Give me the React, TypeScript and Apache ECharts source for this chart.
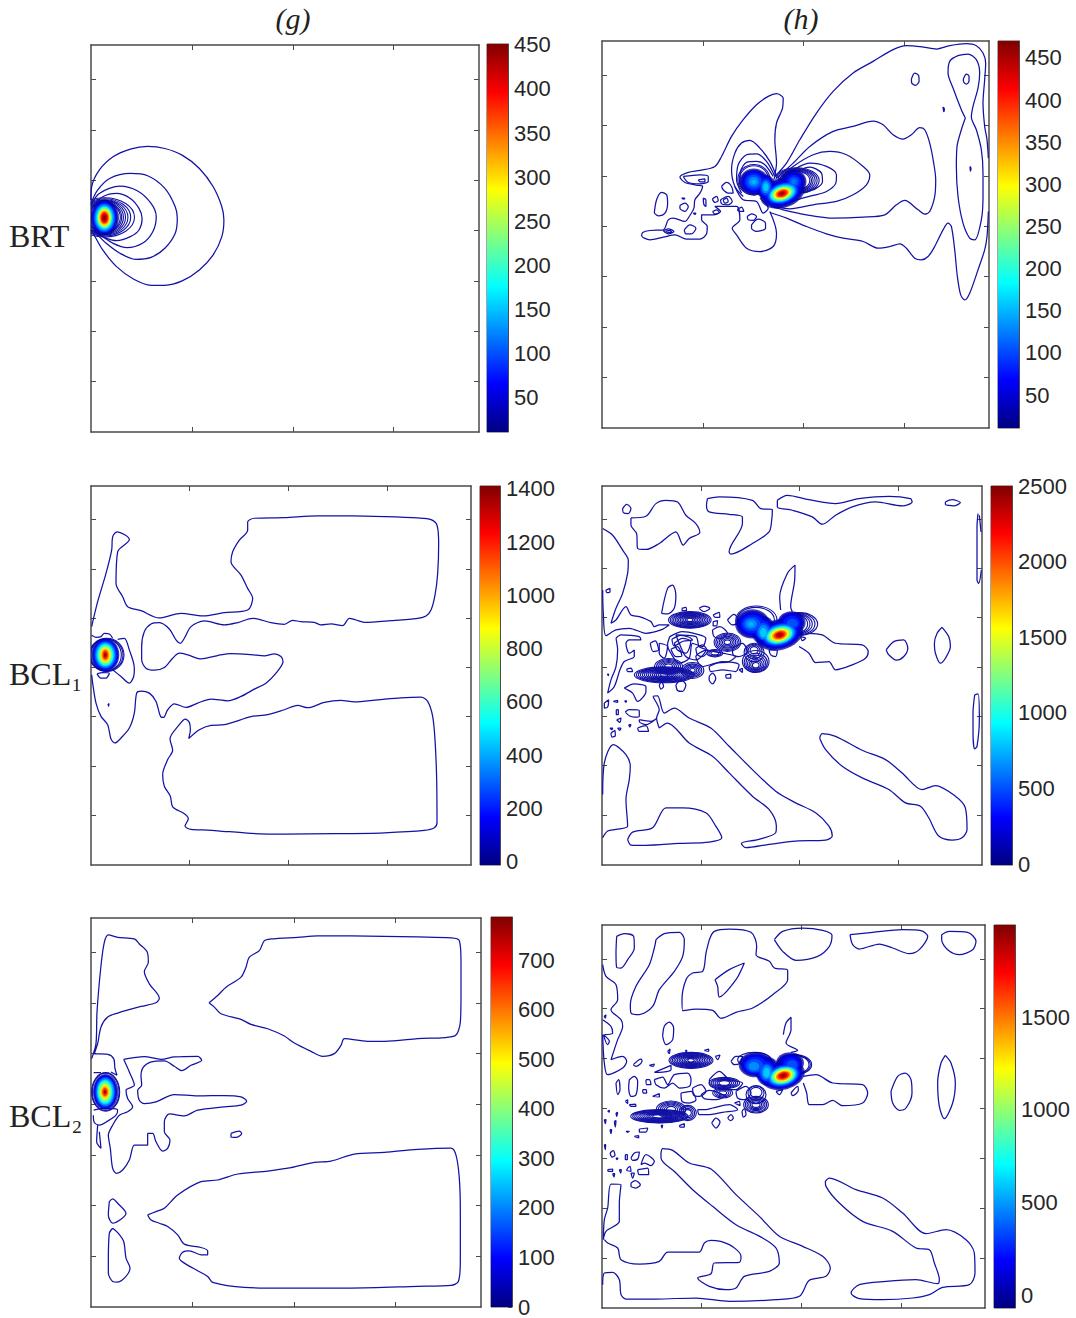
import React, { useEffect, useRef } from "react";
import * as echarts from "echarts";

type Pts = number[][];

// All abscissae and ordinates below are read off the picture in one arbitrary unit per panel
// (the source chart has no numbers on these axes). Rows: [cx, cy, rx, ry, angle, level].

const jetStops = ["#000080", "#0000ff", "#0080ff", "#00ffff", "#80ff80", "#ffff00", "#ff8000", "#ff0000", "#800000"];

// ---------- (g) BRT ----------
const gBrtOpen: Pts[] = [
  [[266,600],[268,560],[290,510],[330,470],[380,447],[430,439],[480,445],[530,465],[580,505],[620,560],[645,620],[651,660],[645,710],[620,765],[580,810],[530,843],[480,856],[440,856],[390,838],[340,800],[300,750],[275,705],[266,690]],
  [[266,610],[285,570],[320,535],[380,520],[430,527],[480,565],[510,620],[516,655],[510,700],[480,745],[440,772],[395,778],[350,760],[310,730],[280,700],[266,690]],
  [[266,615],[290,580],[350,558],[400,572],[440,610],[455,650],[445,695],[415,730],[370,743],[330,730],[295,707],[268,690]],
  [[268,620],[300,590],[340,580],[380,595],[405,625],[414,655],[405,690],[380,710],[340,722],[305,712],[270,690]],
];
const gBrtLoops: Pts[] = [];
const gBrtRings = [[305,652,87,59,0],[305,652,76,56,0],[305,652,68,53,0],[305,652,61,51,0],[305,652,55,49,0],[305,652,50,46,0],[305,652,46,44,0]];
const gBrtBlob = [[305,653,42,54,0,15],[305,653,38,50,0,40],[305,653,34,47,0,70],[305,653,31,43,0,100],[305,653,28,40,0,125],[305,653,25,36,0,150],[305,653,22,33,0,185],[305,653,20,30,0,220],[305,653,18,27,0,260],[305,653,16,24,0,300],[305,653,13,20,0,340],[305,653,11,17,0,380],[305,653,8,12,0,420],[305,653,4,7,0,445]];

// ---------- (h) BRT ----------
const hBrtOpen: Pts[] = [
  [[525,440],[560,400],[600,330],[650,250],[700,185],[760,130],[820,95],[880,60],[920,48],[970,52],[1010,58],[1050,48],[1100,42],[1130,48],[1150,70],[1158,100],[1155,150],[1150,220],[1155,290],[1162,330],[1166,385]],
  [[1166,545],[1162,620],[1155,660],[1135,720],[1110,790],[1095,810],[1083,795],[1073,740],[1065,660],[1055,590],[1045,580],[1030,600],[1005,650],[985,680],[965,690],[945,685],[920,655],[900,642],[870,650],[835,655],[790,635],[730,625],[680,612],[620,590],[560,565],[510,548]],
  [[525,435],[530,400],[525,330],[530,280],[548,235],[550,205],[530,192],[505,200],[470,225],[430,270],[395,320],[365,380],[345,410],[300,422],[265,428],[240,442],[255,458],[290,466],[308,470],[300,490],[285,510],[282,535],[268,560],[255,575],[220,565],[205,570],[190,600],[150,602],[128,608],[125,618],[150,630],[190,622],[225,615],[260,628],[300,628],[320,612],[322,590],[305,570],[305,555],[340,555],[362,545],[345,530],[360,530],[410,530],[420,570],[397,595],[410,615],[440,655],[480,665],[520,650],[530,610],[510,545]],
  [[530,445],[580,400],[630,350],[700,305],[760,290],[820,274],[850,285],[880,315],[910,328],[935,315],[960,294],[975,300],[990,340],[1002,400],[1008,450],[1005,500],[990,545],[975,553],[955,540],[915,512],[890,525],[855,555],[790,562],[700,565],[620,555],[550,540],[515,530]],
  [[535,450],[580,410],[640,375],[690,365],[740,375],[790,410],[810,435],[800,465],[760,495],[710,515],[640,525],[570,537],[520,530]],
  [[540,450],[590,415],[630,400],[680,410],[710,435],[708,460],[680,485],[640,497],[590,510],[560,520]],
  [[590,425],[630,412],[665,430],[668,455],[650,475],[610,490]],
  [[530,440],[510,395],[480,355],[450,332],[425,340],[405,370],[395,420],[405,470],[430,500]],
  [[525,440],[500,395],[470,372],[440,375],[415,405],[410,450],[425,490]],
  [[520,440],[495,405],[470,395],[440,398],[422,425],[420,465]],
  [[405,470],[430,510],[470,515],[490,550],[505,535],[480,505]],
];
const hBrtLoops: Pts[] = [
  [[1097,265],[1085,240],[1060,175],[1045,130],[1050,95],[1075,78],[1105,73],[1130,90],[1140,130],[1135,175],[1120,230],[1115,262],[1130,300],[1145,360],[1150,430],[1150,500],[1145,570],[1125,630],[1110,625],[1090,580],[1075,500],[1070,410],[1072,350],[1085,300]],
  [[935,148],[945,130],[957,138],[958,155],[947,167],[936,160]],
  [[1091,148],[1100,133],[1108,140],[1108,155],[1100,163],[1092,157]],
  [[1030,232],[1034,238],[1032,246]],
  [[1111,410],[1114,417],[1112,424]],
  [[250,440],[300,435],[325,440],[325,455],[300,462],[265,458]],
  [[295,450],[315,447],[315,456],[300,456]],
  [[163,550],[170,510],[185,488],[200,495],[203,520],[195,550],[175,558]],
  [[240,527],[255,520],[265,530],[255,545],[240,535]],
  [[365,470],[380,458],[395,470],[400,490],[385,490],[370,480]],
  [[362,510],[385,500],[397,515],[385,525],[365,522]],
  [[370,510],[380,505],[385,515],[375,520]],
  [[337,508],[350,500],[355,512],[345,518]],
  [[310,505],[318,510],[318,530],[312,525]],
  [[245,505],[255,505],[252,508]],
  [[338,545],[350,540],[358,548],[345,553]],
  [[442,560],[455,552],[470,560],[460,572],[445,570]],
  [[455,585],[475,568],[497,580],[497,595],[470,605],[455,595]],
  [[190,603],[205,597],[222,605],[205,612]],
  [[197,604],[210,602],[215,607],[205,608]],
  [[253,600],[270,585],[288,595],[275,612],[258,612]],
  [[412,540],[425,532],[432,545],[420,545]],
  [[280,550],[288,550],[285,554]],
];
const hBrtRings = [[590,452,68,38,0],[590,452,62,36,0],[590,452,56,34,0],[590,452,50,32,0],[590,452,45,30,0],[590,452,40,28,0],[462,450,48,46,0],[462,450,44,42,0]];
const hBrtBlob = [
  [462,456,44,40,0,25],[498,472,28,38,0,25],[582,456,38,36,0,25],[548,490,68,44,18,25],
  [462,456,40,36,0,38],[498,472,25,35,0,38],[582,456,34,32,0,38],[548,490,62,40,18,38],
  [462,456,35,32,0,57],[498,472,22,31,0,57],[582,456,28,27,0,57],[548,490,56,35,18,57],
  [462,456,29,27,0,80],[498,472,19,27,0,80],[582,456,22,21,0,80],[548,490,50,31,18,80],
  [462,456,23,21,0,103],[498,472,16,23,0,103],[582,456,15,15,0,103],[548,490,46,28,18,103],
  [462,456,15,14,0,130],[498,472,12,18,0,130],[582,456,8,8,0,120],[548,490,42,26,18,130],
  [462,456,8,7,0,148],[498,472,8,12,0,158],[548,491,39,24,18,158],
  [547,491,35,21,18,196],[547,491,30,18,18,250],[547,491,26,15,18,296],[547,491,21,13,18,342],[547,491,17,10,18,388],[547,491,12,7,18,425],[547,491,6,4,18,457],
];

// ---------- (g) BCL1 ----------
const gBcl1Open: Pts[] = [
  [[22,440],[40,365],[65,280],[82,210],[85,170],[98,155],[120,163],[135,178],[100,215],[95,310],[115,350],[130,380],[170,392],[225,414],[290,400],[355,408],[420,398],[490,390],[505,355],[490,325],[470,285],[440,245],[445,215],[465,180],[490,150],[490,125],[510,114],[600,112],[700,107],[800,107],[900,109],[1000,113],[1040,118],[1058,135],[1063,190],[1060,280],[1052,345],[1040,390],[1025,408],[1000,415],[920,422],[840,427],[815,420],[795,415],[775,437],[740,432],[710,435],[690,427],[650,425],[625,421],[600,433],[560,428],[505,415],[460,428],[420,435],[360,423],[320,440],[300,475],[288,490],[275,480],[255,447],[225,428],[200,432],[180,455],[172,500],[172,540],[185,565],[210,571],[240,563],[265,535],[285,520],[310,525],[350,537],[400,527],[440,521],[500,524],[540,528],[570,522],[590,530],[596,545],[575,580],[545,610],[510,628],[470,650],[430,663],[380,658],[340,670],[305,683],[270,672],[250,690],[238,713],[230,712],[215,665],[195,640],[170,634],[157,640],[150,700],[135,745],[110,775],[92,790],[80,778],[70,735],[50,710],[35,670],[25,610],[22,585]],
  [[22,466],[35,472],[50,470],[60,460],[75,462],[85,475]],
  [[100,478],[120,475],[135,510],[150,565],[148,590],[135,610],[110,590],[85,570]],
];
const gBcl1Loops: Pts[] = [
  [[313,777],[345,750],[380,737],[420,735],[500,711],[550,705],[600,690],[640,677],[670,684],[720,668],[770,662],[810,666],[880,660],[950,654],[1010,652],[1030,665],[1045,710],[1052,780],[1057,900],[1058,1030],[1050,1045],[1020,1053],[900,1060],[750,1063],[600,1064],[500,1062],[400,1054],[370,1052],[320,1050],[302,1040],[312,1018],[300,1003],[265,982],[258,950],[240,920],[235,885],[250,840],[265,812],[257,778],[285,735],[303,718],[315,728],[318,750]],
  [[38,582],[50,595],[65,595],[75,580],[55,578]],
  [[71,672],[74,672],[73,680]],
];
const gBcl1Rings = [[67,525,52,50,0],[67,525,49,48,0],[65,525,46,48,0]];
const gBcl1Blob = [[63,525,42,50,0,40],[63,525,39,47,0,100],[63,525,36,44,0,180],[63,525,33,41,0,260],[63,525,30,38,0,340],[63,525,27,35,0,430],[63,525,24,32,0,520],[63,525,21,29,0,620],[63,525,19,26,0,720],[63,525,16,23,0,820],[63,525,14,20,0,920],[63,525,11,17,0,1030],[63,525,8,13,0,1180],[63,525,4,7,0,1350]];

// ---------- (h) BCL1 ----------
const hBcl1Open: Pts[] = [
  [[20,145],[50,165],[80,210],[97,240],[95,280],[80,340],[60,385],[45,430],[60,420],[90,380],[105,405],[130,410],[165,425],[175,440],[190,435],[220,435],[195,450],[150,460],[100,445],[60,450],[30,467],[22,400],[20,330]],
  [[1148,100],[1145,140],[1145,265],[1145,300],[1150,310],[1158,270]],
  [[1152,105],[1157,155]],
  [[635,460],[680,465],[720,490],[800,495],[818,515],[810,535],[770,555],[720,570],[700,545],[660,548],[640,520],[610,500]],
  [[555,390],[552,350],[575,280],[598,255],[597,300],[585,380],[590,395]],
  [[20,945],[25,850],[52,795],[90,825],[103,860],[100,900],[90,960],[95,1040],[60,1050],[35,1055],[20,1075]],
];
const hBcl1Loops: Pts[] = [
  [[80,85],[92,72],[105,85],[97,100],[82,97]],
  [[105,113],[150,108],[180,70],[210,60],[245,65],[270,105],[300,130],[312,157],[280,175],[262,195],[240,155],[190,190],[150,208],[125,205],[122,160],[105,135]],
  [[335,55],[370,50],[470,60],[495,85],[530,88],[528,120],[520,155],[470,190],[405,222],[400,215],[440,130],[440,110],[400,102],[340,95],[332,75]],
  [[545,60],[575,45],[640,58],[720,70],[790,55],[880,48],[945,55],[950,65],[920,77],[840,65],[770,80],[720,105],[680,132],[650,110],[590,90],[545,80]],
  [[1050,65],[1070,58],[1095,67],[1075,77],[1050,72]],
  [[60,475],[75,465],[130,470],[135,480],[100,480],[90,490],[100,520],[115,510],[115,530],[85,545],[72,570],[55,620],[35,640],[45,600],[60,560],[65,510]],
  [[85,625],[115,612],[150,620],[150,635],[125,665],[110,640]],
  [[197,400],[215,325],[230,315],[240,345],[235,385],[215,402]],
  [[872,510],[895,485],[925,480],[937,505],[925,530],[903,541],[880,525]],
  [[1040,442],[1060,470],[1065,500],[1050,535],[1035,550],[1020,520],[1017,490],[1025,460]],
  [[1138,645],[1148,642],[1152,720],[1145,800],[1138,808],[1133,760],[1133,700]],
  [[190,745],[182,715],[190,690],[172,650],[185,648],[205,700],[235,685],[280,715],[345,745],[400,800],[470,870],[540,935],[600,970],[660,1000],[700,1040],[710,1070],[690,1082],[600,1085],[520,1095],[450,1105],[437,1092],[490,1080],[540,1060],[542,1040],[520,990],[470,950],[400,880],[350,830],[280,790],[215,730]],
  [[672,775],[680,762],[720,770],[800,812],[870,840],[920,880],[980,930],[1020,918],[1080,950],[1110,985],[1115,1050],[1100,1075],[1070,1082],[1030,1070],[1000,1015],[975,980],[930,970],[880,930],[800,895],[740,860],[690,810]],
  [[95,1080],[110,1058],[170,1045],[210,985],[260,985],[330,1000],[360,1040],[378,1075],[340,1088],[250,1092],[150,1098],[105,1097]],
  [[222,470],[260,455],[300,462],[330,475],[320,500],[290,490],[280,535],[250,550],[225,520],[215,495]],
  [[235,490],[260,475],[285,485],[270,520],[245,510]],
  [[240,465],[300,470],[310,500],[330,510],[300,540],[270,530],[250,490]],
  [[228,478],[255,466],[280,472],[290,480],[262,484],[235,498]],
  [[225,508],[245,500],[258,528],[240,530]],
  [[330,510],[380,520],[420,530],[400,545],[360,550],[320,560],[300,530]],
  [[340,560],[380,545],[430,555],[420,575],[380,570],[345,575]],
  [[300,505],[320,495],[335,515],[320,530],[305,525]],
  [[350,450],[372,440],[395,460],[375,475],[355,470]],
  [[410,505],[440,490],[455,515],[430,530],[412,525]],
  [[163,490],[178,483],[188,510],[172,515]],
  [[190,490],[215,500],[205,535],[190,520]],
  [[92,568],[105,565],[110,575],[95,575]],
  [[340,590],[350,580],[360,595],[350,612],[340,600]],
  [[390,585],[405,583],[405,595],[392,595]],
  [[190,615],[197,607],[203,620],[195,628]],
  [[240,615],[255,600],[270,615],[260,635],[245,632]],
  [[430,570],[440,565],[440,578]],
  [[395,420],[415,403],[430,425],[410,435]],
  [[352,405],[370,397],[372,412],[358,412]],
  [[352,425],[365,422],[362,438],[352,437]],
  [[310,385],[325,378],[342,385],[325,395]],
  [[258,385],[270,382],[272,392],[260,392]],
  [[615,470],[630,475],[620,482]],
  [[520,510],[545,512],[540,530],[525,525]],
  [[25,670],[38,660],[35,682],[25,685]],
  [[52,665],[65,662],[65,668]],
  [[86,663],[92,663],[90,668]],
  [[61,690],[67,690],[67,705],[61,705]],
  [[88,697],[100,690],[130,692],[130,710],[115,712],[100,708]],
  [[62,720],[75,715],[72,728]],
  [[130,720],[165,725],[180,718],[150,735],[130,725]],
  [[125,745],[150,738],[158,755],[130,755]],
  [[45,760],[57,752],[58,768],[48,772]],
  [[65,745],[75,745],[72,752]],
  [[42,745],[50,745],[48,750]],
  [[98,735],[105,735],[102,742]],
  [[34,583],[38,583],[37,587]],
  [[30,330],[42,325],[42,335],[32,338]],
];
const hBcl1Rings = [
  [282,420,64,25,0],[282,420,59,23,0],[282,420,54,21,0],[282,420,49,20,0],[282,420,44,18,0],[282,420,39,16,0],[282,420,34,14,0],[282,420,29,13,0],[282,420,24,11,0],[282,420,19,9,0],[282,420,14,7,0],[282,420,9,5,0],
  [205,585,90,24,0],[205,585,84,22,0],[205,585,78,21,0],[205,585,72,20,0],[205,585,66,18,0],[205,585,60,17,0],[205,585,54,15,0],[205,585,48,14,0],[205,585,42,12,0],[205,585,36,11,0],[205,585,30,9,0],[205,585,24,8,0],[205,585,18,6,0],[205,585,12,4,0],
  [218,560,42,24,0],[218,560,36,21,0],[218,560,30,18,0],[218,560,24,15,0],[218,560,18,12,0],[218,560,12,8,0],
  [290,572,34,24,0],[290,572,28,20,0],[290,572,23,17,0],[290,572,18,13,0],[290,572,13,10,0],[290,572,8,6,0],
  [395,487,40,28,0],[395,487,35,25,0],[395,487,30,22,0],[395,487,25,18,0],[395,487,20,15,0],[395,487,15,11,0],[395,487,10,7,0],
  [357,520,24,11,0],[357,520,18,8,0],[357,520,12,5,0],
  [480,545,40,33,0],[480,548,35,28,0],[480,550,30,24,0],[480,552,25,20,0],[480,554,20,16,0],[480,555,15,12,0],[480,556,10,8,0],[475,518,30,28,0],[475,515,24,22,0],[475,513,18,17,0],[475,511,12,11,0],
  [612,432,54,34,0],[608,432,50,33,0],[604,432,46,31,0],[600,432,43,30,0],[596,432,40,29,0],[482,420,62,42,0],[480,420,56,38,0],
];
const hBcl1Blob = [
  [470,432,52,44,0,70],[503,452,36,44,0,70],[588,428,42,34,0,70],[552,464,72,46,15,70],
  [470,432,47,40,0,145],[503,452,32,40,0,145],[588,428,37,31,0,145],[552,464,66,42,15,145],
  [470,432,41,34,0,245],[503,452,28,35,0,245],[588,428,32,27,0,245],[552,464,60,38,15,245],
  [470,432,34,28,0,370],[503,452,24,30,0,370],[588,428,25,21,0,370],[552,464,54,34,15,370],
  [468,432,26,21,0,495],[503,454,20,26,0,495],[590,430,17,14,0,495],[552,464,50,31,15,495],
  [466,432,17,14,0,646],[503,456,15,21,0,646],[552,464,46,28,15,646],
  [466,432,8,7,0,747],[503,458,10,15,0,797],[552,465,42,26,15,797],
  [552,465,38,23,15,1047],[552,465,33,20,15,1298],[552,465,28,17,15,1548],[552,465,23,14,15,1799],[552,465,18,11,15,2050],[552,465,13,8,15,2250],[552,465,7,5,15,2425],
];

// ---------- (g) BCL2 ----------
const gBcl2Open: Pts[] = [
  [[22,440],[35,395],[38,300],[50,160],[60,90],[72,68],[100,75],[150,80],[165,95],[188,118],[192,150],[180,178],[195,215],[225,258],[215,272],[170,283],[100,303],[70,315],[50,345],[40,395],[30,425],[70,427],[88,440],[92,470],[98,490],[80,480]],
  [[28,482],[50,482]],
  [[28,595],[50,590],[85,590],[100,595],[95,610],[70,628],[45,640],[30,632],[27,610]],
  [[40,640],[37,690],[50,710],[45,660]],
];
const gBcl2Loops: Pts[] = [
  [[374,272],[400,250],[425,225],[470,195],[485,165],[495,135],[525,115],[540,85],[560,80],[640,75],[700,71],[800,71],[900,72],[1000,74],[1100,77],[1125,85],[1130,150],[1130,250],[1128,330],[1110,372],[1000,380],[900,388],[850,388],[780,380],[770,400],[750,425],[715,433],[680,418],[630,393],[600,372],[550,350],[500,337],[470,322],[410,305],[390,285]],
  [[118,442],[180,434],[230,442],[270,435],[340,433],[352,445],[320,460],[292,476],[270,463],[240,447],[210,448],[180,462],[170,490],[172,520],[160,535],[165,565],[180,575],[215,570],[270,548],[340,552],[420,551],[470,555],[487,568],[470,580],[420,585],[340,595],[300,612],[255,606],[240,630],[240,660],[257,685],[250,710],[235,718],[215,690],[205,665],[190,665],[190,700],[170,700],[150,700],[135,745],[115,775],[97,785],[85,770],[78,710],[72,670],[85,640],[105,610],[130,600],[145,585],[130,560],[125,535],[150,520],[135,480]],
  [[440,665],[465,658],[472,665],[455,677],[440,676]],
  [[75,870],[85,862],[100,875],[125,905],[85,935],[72,910]],
  [[85,950],[75,965],[72,1050],[72,1085],[85,1110],[100,1112],[125,1095],[137,1070],[125,1040],[118,990],[100,963]],
  [[190,910],[215,900],[240,890],[280,850],[350,810],[400,805],[460,787],[550,778],[620,768],[690,752],[740,748],[810,727],[900,722],[1000,713],[1100,709],[1115,730],[1125,800],[1128,900],[1128,1050],[1122,1110],[1100,1122],[1000,1125],[800,1130],[600,1130],[480,1128],[385,1113],[370,1095],[340,1078],[300,1055],[285,1040],[295,1022],[315,1018],[350,1030],[370,1030],[370,1018],[350,1008],[300,998],[280,970],[250,945],[225,935],[200,925]],
];
const gBcl2Rings = [[64,540,42,58,0],[64,540,40,56,0]];
const gBcl2Blob = [[64,540,38,54,0,20],[63,540,35,51,0,60],[63,540,32,48,0,100],[63,540,30,45,0,150],[63,540,27,42,0,195],[63,540,25,38,0,240],[62,540,22,35,0,290],[62,540,20,31,0,340],[62,540,18,28,0,390],[62,540,15,24,0,440],[62,540,13,21,0,500],[62,540,11,17,0,560],[62,540,8,12,0,650],[62,540,4,6,0,750]];

// ---------- (h) BCL2 ----------
const hBcl2Open: Pts[] = [
  [[20,135],[30,170],[60,195],[65,240],[45,270],[75,300],[80,320],[65,360],[45,420],[80,410],[92,425],[80,445],[35,465],[25,430],[20,345]],
  [[20,300],[45,320],[50,340],[25,345]],
  [[562,345],[570,310],[585,293],[585,330],[570,370],[605,392],[585,398]],
  [[622,470],[660,465],[710,490],[800,495],[815,520],[800,550],[740,558],[710,542],[680,555],[640,555],[632,520],[622,490]],
  [[195,700],[200,687],[230,692],[280,730],[345,748],[420,825],[490,890],[550,950],[620,980],[680,1010],[703,1045],[690,1070],[640,1082],[610,1130],[540,1140],[400,1145],[300,1135],[180,1138],[90,1138],[75,1125],[70,1080],[50,1058],[25,1060],[20,1095]],
  [[25,960],[35,970],[65,985],[75,1020],[130,1033],[190,1025],[215,997],[310,997],[325,970],[345,962],[400,975],[435,1010],[430,1028],[355,1030],[345,1062],[305,1075],[340,1100],[390,1110],[420,1105],[445,1070],[520,1055],[550,1030],[540,985],[500,955],[420,915],[350,860],[290,810],[240,760],[195,715],[195,700]],
  [[22,960],[30,935],[70,905],[70,850],[75,795],[45,793],[35,865],[25,900],[22,960]],
];
const hBcl2Loops: Pts[] = [
  [[62,50],[85,42],[113,50],[115,85],[95,120],[75,145],[62,143],[60,100]],
  [[180,60],[205,42],[250,38],[265,60],[260,110],[235,155],[190,210],[170,260],[130,285],[105,280],[103,255],[120,200],[160,135],[175,85]],
  [[340,60],[355,35],[400,28],[465,38],[482,80],[480,105],[520,125],[535,145],[575,152],[575,180],[530,225],[470,265],[420,278],[375,296],[350,272],[300,268],[260,273],[258,240],[270,180],[290,160],[320,155],[330,100]],
  [[357,180],[400,150],[445,130],[420,180],[370,232],[365,200]],
  [[535,60],[560,35],[620,25],[680,32],[708,47],[700,80],[665,110],[600,122],[560,95]],
  [[762,45],[830,38],[920,30],[975,33],[995,50],[970,90],[940,102],[890,85],[850,73],[790,88],[770,75]],
  [[1037,45],[1060,35],[1115,38],[1140,65],[1130,90],[1090,105],[1055,90],[1037,60]],
  [[200,350],[205,320],[220,307],[233,325],[230,360],[210,375]],
  [[1048,407],[1065,430],[1078,490],[1070,550],[1045,597],[1030,560],[1025,490],[1035,430]],
  [[885,515],[905,470],[928,460],[945,480],[948,520],[930,565],[910,572],[890,550]],
  [[688,785],[700,775],[780,810],[860,835],[920,880],[990,942],[1050,930],[1110,960],[1135,1000],[1137,1060],[1120,1095],[1040,1103],[1000,1125],[950,1135],[860,1140],[790,1137],[765,1120],[790,1095],[870,1085],[960,1080],[1025,1092],[1030,1080],[1015,1030],[1000,990],[960,985],[890,935],[800,905],[730,850],[690,800]],
  [[175,480],[200,472],[215,495],[235,465],[275,460],[285,480],[280,500],[250,505],[230,490],[205,505],[180,495]],
  [[100,480],[115,470],[125,485],[120,525],[105,530],[98,505]],
  [[60,490],[68,480],[72,510],[65,525]],
  [[150,480],[160,480],[165,495],[152,495]],
  [[112,435],[135,418],[138,425],[120,440]],
  [[175,458],[225,437],[225,450],[190,458]],
  [[160,437],[175,433],[172,440]],
  [[140,510],[150,510],[152,520],[142,520]],
  [[170,530],[190,522],[190,532]],
  [[215,395],[222,388],[220,402]],
  [[268,392],[272,392],[272,398]],
  [[325,392],[338,388],[338,395]],
  [[358,410],[372,406],[365,420]],
  [[405,425],[420,410],[440,410],[430,432],[415,435]],
  [[340,480],[370,455],[400,480],[440,490],[420,510],[380,510],[345,500]],
  [[315,525],[340,512],[385,530],[360,540],[325,537]],
  [[305,570],[330,570],[350,565],[400,555],[425,570],[380,578],[335,585],[310,585]],
  [[290,505],[315,495],[330,515],[310,530],[292,525]],
  [[255,520],[285,515],[300,540],[280,550],[258,545]],
  [[420,515],[450,500],[465,520],[445,540],[425,535]],
  [[438,575],[445,567],[450,585],[442,592]],
  [[415,550],[430,545],[432,558]],
  [[585,520],[605,500],[607,512],[590,528]],
  [[540,515],[560,510],[550,525]],
  [[347,610],[360,595],[372,607],[360,625]],
  [[395,595],[405,585],[412,595],[403,603]],
  [[250,618],[265,612],[265,622],[252,622]],
  [[195,618],[200,616],[198,625]],
  [[130,628],[155,625],[150,637],[130,637]],
  [[115,650],[128,648],[128,655]],
  [[100,555],[118,553],[120,560],[105,560]],
  [[88,545],[95,540],[95,552]],
  [[35,575],[40,572],[40,578]],
  [[60,580],[65,578],[62,590]],
  [[55,605],[60,603],[58,622]],
  [[42,630],[47,630],[45,642]],
  [[25,600],[30,600],[28,612]],
  [[90,635],[100,635],[95,638]],
  [[42,700],[52,693],[57,707],[48,712]],
  [[105,715],[115,700],[130,697],[125,718],[110,722]],
  [[135,735],[150,705],[175,725],[165,738],[145,730]],
  [[125,750],[155,745],[158,765],[130,765]],
  [[105,790],[118,783],[133,795],[120,805],[105,800]],
  [[88,705],[94,705],[94,720],[88,720]],
  [[25,675],[29,675],[28,690]],
  [[60,715],[66,715],[63,720]],
  [[95,745],[102,740],[105,755],[92,752]],
  [[35,750],[50,748],[50,755],[37,755]],
  [[105,760],[115,760],[110,775]],
  [[50,762],[56,762],[54,772]],
  [[70,750],[76,750],[74,760]],
  [[22,345],[40,365],[35,375]],
  [[30,285],[25,290],[28,295]],
];
const hBcl2Rings = [
  [285,422,66,24,0],[285,422,61,22,0],[285,422,56,21,0],[285,422,51,19,0],[285,422,46,17,0],[285,422,41,16,0],[285,422,36,14,0],[285,422,31,12,0],[285,422,26,11,0],[285,422,21,9,0],[285,422,16,7,0],[285,422,10,5,0],
  [190,590,86,20,0],[190,590,80,19,0],[190,590,74,18,0],[190,590,68,16,0],[190,590,62,15,0],[190,590,56,14,0],[190,590,50,12,0],[190,590,44,11,0],[190,590,38,9,0],[190,590,32,8,0],[190,590,26,6,0],[190,590,20,5,0],
  [225,570,44,26,0],[225,570,38,23,0],[225,570,32,20,0],[225,570,26,17,0],[225,570,20,14,0],[225,570,14,10,0],
  [275,580,26,23,0],[275,580,21,19,0],[275,580,16,14,0],[275,580,11,10,0],
  [385,490,46,17,0],[385,490,40,15,0],[385,490,34,13,0],[385,490,28,11,0],[385,490,22,9,0],[385,490,16,7,0],[380,520,30,15,0],[380,520,24,12,0],[380,520,18,9,0],[380,520,12,6,0],
  [480,555,37,25,0],[480,555,32,22,0],[480,555,27,18,0],[480,555,22,15,0],[480,555,17,12,0],[480,555,12,8,0],[480,525,30,27,0],[480,520,24,21,0],[480,518,18,15,0],
  [595,435,52,30,0],[595,435,48,29,0],[595,435,44,28,0],[475,420,50,22,0],
];
const hBcl2Blob = [
  [480,435,52,38,0,-3],[515,455,36,44,0,-3],[582,430,42,32,0,-3],[562,468,66,42,15,-3],
  [480,435,47,34,0,59],[515,455,32,40,0,59],[582,431,37,29,0,59],[562,468,60,38,15,59],
  [480,435,41,29,0,141],[512,456,28,35,0,141],[584,432,31,25,0,141],[562,468,55,35,15,141],
  [478,436,34,25,0,244],[512,456,24,30,0,244],[586,434,24,20,0,244],[562,468,51,32,15,244],
  [476,438,26,20,0,347],[512,458,20,26,0,347],[588,436,16,14,0,347],[562,468,47,30,15,347],
  [474,440,16,13,0,471],[512,458,15,21,0,471],[562,468,43,27,15,471],
  [512,459,10,15,0,594],[562,468,40,25,15,594],
  [562,468,36,23,15,800],[562,468,31,20,15,1006],[562,468,27,17,15,1212],[562,468,23,14,15,1418],[562,468,18,11,15,1624],[562,468,13,8,15,1789],[562,468,7,5,15,1933],
];

// ---------- colour bars and ticks ----------
const barTicks = [
  [50, 100, 150, 200, 250, 300, 350, 400, 450],
  [50, 100, 150, 200, 250, 300, 350, 400, 450],
  [0, 200, 400, 600, 800, 1000, 1200, 1400],
  [0, 500, 1000, 1500, 2000, 2500],
  [0, 100, 200, 300, 400, 500, 600, 700],
  [0, 500, 1000, 1500],
];
const barRanges = [[11, 451], [11, 470], [-13, 1411], [-5, 2500], [0, 787], [-65, 1995]];
const rowLabels = ["BRT", "BCL₁", "BCL₂"];
const columnTitles = ["(g)", "(h)"];

const panels = [
  { grid: { left: 91, top: 45, width: 388, height: 387 }, bar: { left: 487, top: 44, width: 21, height: 388 }, xd: [266, 1390], yd: [134, 1297], xt: [558, 851, 1143], yt: [238, 389, 540, 691, 843, 994, 1145], open: gBrtOpen, loops: gBrtLoops, rings: gBrtRings, blob: gBrtBlob },
  { grid: { left: 602, top: 41, width: 387, height: 387 }, bar: { left: 998, top: 41, width: 21, height: 387 }, xd: [6, 1168], yd: [34, 1194], xt: [309, 611, 913], yt: [136, 287, 438, 589, 740, 891, 1043], open: hBrtOpen, loops: hBrtLoops, rings: hBrtRings, blob: hBrtBlob },
  { grid: { left: 91, top: 486, width: 380, height: 379 }, bar: { left: 480, top: 486, width: 20, height: 379 }, xd: [20, 1160], yd: [17, 1157], xt: [316, 613, 909], yt: [118, 266, 414, 563, 711, 859, 1008], open: gBcl1Open, loops: gBcl1Loops, rings: gBcl1Rings, blob: gBcl1Blob },
  { grid: { left: 602, top: 486, width: 380, height: 379 }, bar: { left: 991, top: 486, width: 21, height: 379 }, xd: [18, 1160], yd: [17, 1157], xt: [315, 612, 908], yt: [117, 265, 413, 562, 710, 858, 1006], open: hBcl1Open, loops: hBcl1Loops, rings: hBcl1Rings, blob: hBcl1Blob },
  { grid: { left: 91, top: 918, width: 390, height: 389 }, bar: { left: 491, top: 917, width: 21, height: 390 }, xd: [20, 1190], yd: [17, 1187], xt: [325, 629, 934], yt: [120, 272, 425, 577, 730, 882, 1034], open: gBcl2Open, loops: gBcl2Loops, rings: gBcl2Rings, blob: gBcl2Blob },
  { grid: { left: 602, top: 925, width: 383, height: 383 }, bar: { left: 994, top: 925, width: 21, height: 383 }, xd: [18, 1167], yd: [16, 1165], xt: [317, 617, 917], yt: [118, 267, 417, 566, 716, 865, 1015], open: hBcl2Open, loops: hBcl2Loops, rings: hBcl2Rings, blob: hBcl2Blob },
];

const CONTOUR = "#1212a6";
const AXIS = "#4a4a4a";

function buildOption() {
  const grid: any[] = [];
  const xAxis: any[] = [];
  const yAxis: any[] = [];
  const series: any[] = [];
  const gradient = new echarts.graphic.LinearGradient(
    0, 1, 0, 0,
    jetStops.map((color, i) => ({ offset: i / (jetStops.length - 1), color }))
  );

  const frame = (gi: number, pos: string, p: any) => ({
    type: "value", gridIndex: gi, position: pos, min: p.xd[0], max: p.xd[1],
    axisLine: { onZero: false, lineStyle: { color: AXIS, width: 1.5 } },
    axisTick: { show: true, inside: true, length: 5, customValues: p.xt, lineStyle: { color: AXIS } },
    axisLabel: { show: false }, splitLine: { show: false },
  });
  const vframe = (gi: number, pos: string, p: any) => ({
    type: "value", gridIndex: gi, position: pos, min: p.yd[0], max: p.yd[1], inverse: true,
    axisLine: { show: true, onZero: false, lineStyle: { color: AXIS, width: 1.5 } },
    axisTick: { show: true, inside: true, length: 5, customValues: p.yt, lineStyle: { color: AXIS } },
    axisLabel: { show: false }, splitLine: { show: false },
  });

  panels.forEach((p, idx) => {
    const gi = grid.length;
    grid.push({ ...p.grid, containLabel: false });
    const xi = xAxis.length;
    xAxis.push(frame(gi, "bottom", p), frame(gi, "top", p));
    const yi = yAxis.length;
    yAxis.push(vframe(gi, "left", p), vframe(gi, "right", p));
    const [lo, hi] = barRanges[idx];

    const addLine = (pts: Pts) =>
      series.push({
        type: "line", xAxisIndex: xi, yAxisIndex: yi, data: pts, showSymbol: false, symbol: "none",
        smooth: 0.3, clip: true, silent: true, z: 2,
        lineStyle: { color: CONTOUR, width: 1.25 },
      });
    p.open.forEach(addLine);
    p.loops.forEach((l) => addLine([...l, l[0]]));

    if (p.rings.length)
      series.push({
        type: "custom", xAxisIndex: xi, yAxisIndex: yi, data: p.rings, clip: true, silent: true, z: 3,
        encode: { x: 0, y: 1 },
        renderItem: (_: any, api: any) => {
          const c = api.coord([api.value(0), api.value(1)]);
          const s = api.size([api.value(2) * 2, api.value(3) * 2], [api.value(0), api.value(1)]);
          return {
            type: "ellipse", x: c[0], y: c[1], rotation: (api.value(4) * Math.PI) / 180,
            shape: { cx: 0, cy: 0, rx: s[0] / 2, ry: s[1] / 2 },
            style: { fill: "none", stroke: CONTOUR, lineWidth: 1.1 },
          };
        },
      });

    series.push({
      type: "custom", xAxisIndex: xi, yAxisIndex: yi, data: p.blob, clip: true, silent: true, z: 4,
      encode: { x: 0, y: 1 },
      renderItem: (_: any, api: any) => {
        const c = api.coord([api.value(0), api.value(1)]);
        const s = api.size([api.value(2) * 2, api.value(3) * 2], [api.value(0), api.value(1)]);
        const t = Math.max(0, Math.min(1, (api.value(5) - lo) / (hi - lo)));
        return {
          type: "ellipse", x: c[0], y: c[1], rotation: (api.value(4) * Math.PI) / 180,
          shape: { cx: 0, cy: 0, rx: s[0] / 2, ry: s[1] / 2 },
          style: { fill: echarts.color.lerp(t, jetStops), opacity: t < 0.09 ? 0.75 : 1 },
        };
      },
    });

    // colour bar
    const bi = grid.length;
    grid.push({ ...p.bar, containLabel: false, show: true, borderColor: AXIS, borderWidth: 1 });
    const bx = xAxis.length;
    xAxis.push({ type: "value", gridIndex: bi, min: 0, max: 1, show: false });
    const by = yAxis.length;
    yAxis.push({
      type: "value", gridIndex: bi, position: "right", min: lo, max: hi,
      axisLine: { show: true, onZero: false, lineStyle: { color: AXIS } },
      axisTick: { show: true, inside: true, length: 4, customValues: barTicks[idx], lineStyle: { color: AXIS } },
      axisLabel: {
        show: true, customValues: barTicks[idx], margin: 6, fontSize: 22, color: "#262626",
        fontFamily: "Liberation Sans", padding: [2, 0, 0, 0], formatter: (v: number) => String(v),
      },
      splitLine: { show: false },
    });
    series.push({
      type: "custom", xAxisIndex: bx, yAxisIndex: by, data: [[0, 1, lo, hi]], silent: true, z: 1,
      encode: { x: [0, 1], y: [2, 3] },
      renderItem: (_: any, api: any) => {
        const a = api.coord([api.value(0), api.value(3)]);
        const b = api.coord([api.value(1), api.value(2)]);
        return { type: "rect", shape: { x: a[0], y: a[1], width: b[0] - a[0], height: b[1] - a[1] }, style: { fill: gradient } };
      },
    });
  });

  const label = (text: string, x: number, y: number, font: string, align: string) => ({
    type: "text", x, y, style: { text, x: 0, y: 0, align, verticalAlign: "middle", font, fill: "#222" },
  });
  const graphic = [
    label(columnTitles[0], 293, 18, "italic 30px 'Liberation Serif'", "center"),
    label(columnTitles[1], 801, 18, "italic 30px 'Liberation Serif'", "center"),
    label(rowLabels[0], 9, 236, "32px 'Liberation Serif'", "left"),
    label(rowLabels[1], 9, 674, "32px 'Liberation Serif'", "left"),
    label(rowLabels[2], 9, 1116, "32px 'Liberation Serif'", "left"),
  ];

  return { animation: false, backgroundColor: "#fff", grid, xAxis, yAxis, series, graphic };
}

export default function App() {
  const ref = useRef<HTMLDivElement>(null);
  useEffect(() => {
    const chart = echarts.init(ref.current!, undefined, { renderer: "svg" });
    chart.setOption(buildOption() as any);
    return () => chart.dispose();
  }, []);
  return <div ref={ref} style={{ position: "absolute", left: 0, top: 0, width: 1076, height: 1318 }} />;
}
